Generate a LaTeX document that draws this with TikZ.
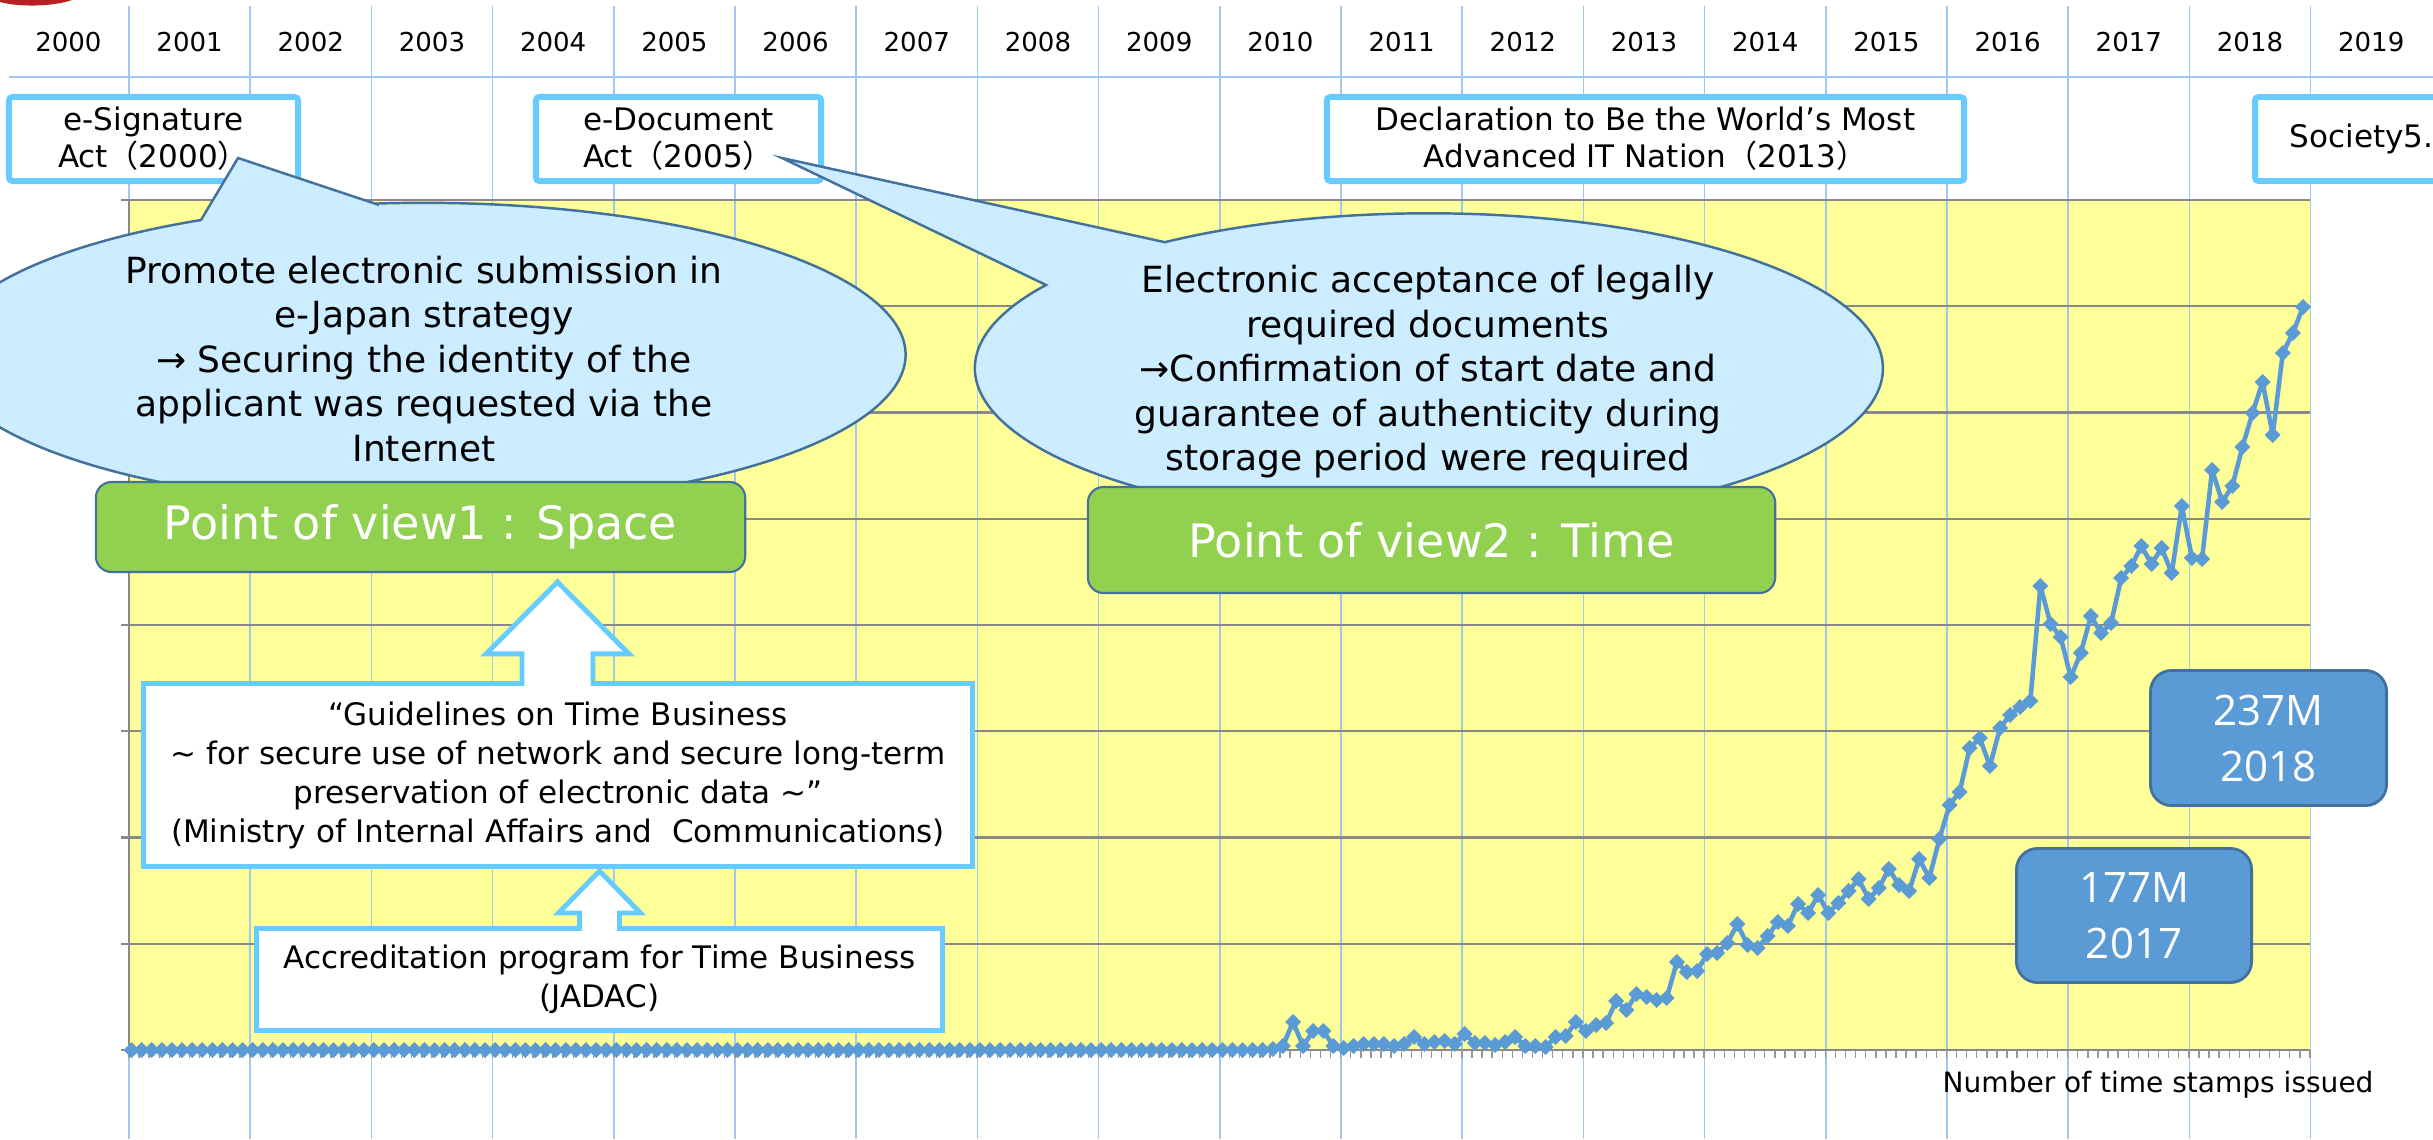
\documentclass[tikz,border=0pt]{standalone}
\usepackage{fontspec}
\setmainfont{DejaVu Sans}
\newfontfamily\cjkfont{Noto Sans CJK JP}
\newfontfamily\valfont{Open Sans}
\definecolor{gridblue}{RGB}{160,200,240}
\definecolor{plotyellow}{RGB}{255,255,153}
\definecolor{gridgray}{RGB}{137,137,137}
\definecolor{tickgray}{RGB}{150,150,150}
\definecolor{datablue}{RGB}{91,155,213}
\definecolor{cyanb}{RGB}{102,204,255}
\definecolor{bubfill}{RGB}{204,236,255}
\definecolor{bubline}{RGB}{65,113,156}
\definecolor{povgreen}{RGB}{146,208,80}
\definecolor{valblue}{RGB}{91,155,213}
\definecolor{logored}{RGB}{185,30,35}
\newcommand{\fwl}{{\cjkfont （}}
\newcommand{\fwr}{{\cjkfont ）}}
\begin{document}
\begin{tikzpicture}[x=0.01cm,y=-0.01cm,
  yearlbl/.style={font=\fontsize{7.4pt}{8pt}\selectfont, inner sep=0pt},
  evbox/.style={draw=cyanb, line width=1.7pt, fill=white, rounded corners=1pt, align=center, inner sep=0pt, outer sep=0pt, font=\fontsize{8.82pt}{10.53pt}\selectfont},
  evborder/.style={draw=cyanb, line width=1.7pt, fill=white, rounded corners=1pt},
  evtext/.style={inner sep=0pt, font=\fontsize{8.82pt}{10.53pt}\selectfont},
  bubble/.style={fill=bubfill, draw=bubline, line width=0.7pt, line join=miter},
  bubtext/.style={align=center, inner sep=0pt, font=\fontsize{10.24pt}{12.66pt}\selectfont},
  povbox/.style={fill=povgreen, draw=bubline, line width=0.6pt, rounded corners=4.5pt, text=white, inner sep=0pt, outer sep=0pt, font=\fontsize{13.09pt}{15pt}\selectfont},
  infobox/.style={draw=cyanb, line width=1.4pt, fill=white, align=center, inner sep=0pt, outer sep=0pt, font=\fontsize{8.82pt}{11.1pt}\selectfont},
  valbox/.style={fill=valblue, draw=bubline, line width=0.8pt, rounded corners=6pt, text=white, align=center, inner sep=0pt, outer sep=0pt, font=\valfont\fontsize{11.95pt}{15.93pt}\selectfont},
  blockarrow/.style={draw=cyanb, line width=1.4pt, line join=miter},
  dl/.style={draw=datablue, line width=1.3pt, line cap=round}]
\useasboundingbox (0,0) rectangle (2433,1139);
\clip (0,0) rectangle (2433,1139);
\fill[white] (0,0) rectangle (2433,1139);
% red logo sliver
\fill[logored] (0,0) -- (0,2) .. controls (18,7) and (52,7) .. (72,0) -- cycle;
% plot area
\fill[plotyellow] (129,200) rectangle (2310,1050);
\foreach \k in {0,...,18} \draw[gridblue, line width=0.45pt] ({129+121.2*\k},6) -- ({129+121.2*\k},1139);
\draw[gridblue, line width=0.6pt] (9,77) -- (2433,77);
\foreach \j in {0,...,8} \draw[gridgray, line width=0.6pt] (121,{200+106.25*\j}) -- (2310,{200+106.25*\j});
\draw[gridgray, line width=0.5pt] (129,200) -- (129,1050);
\foreach \m in {0,...,216} \draw[tickgray, line width=0.4pt] ({129+10.097*\m},1050) -- ({129+10.097*\m},1058);
% data series
\draw[dl] (131.5,1050) -- ({131.5+10.1*110},1050);
\foreach \i in {0,...,110} \fill[datablue] ({131.5+10.1*\i},1050) +(-8,0) -- +(0,-8) -- +(8,0) -- +(0,8) -- cycle;
\foreach \yv [count=\c from 111, remember=\yv as \pyv (initially 1050)] in {1050,1050,1049,1046,1022,1046,1031,1031,1046,1048,1046,1044,1044,1044,1046,1044,1037,1044,1042,1041,1044,1034,1043,1043,1045,1042,1037,1046,1046,1047,1037,1036,1022,1031,1025,1023,1001,1010,994,997,1000,998,962,972,971,954,953,943,924,945,948,936,922,926,904,913,895,913,903,891,879,899,888,869,885,891,859,878,839,805,792,748,738,766,728,715,707,701,586,624,637,677,653,616,633,623,578,566,546,564,548,573,506,558,559,470,502,486,447,413,382,435,353,333,307}{
  \draw[dl] ({131.5+10.1*(\c-1)},\pyv) -- ({131.5+10.1*\c},\yv);
  \fill[datablue] ({131.5+10.1*\c},\yv) +(-8,0) -- +(0,-8) -- +(8,0) -- +(0,8) -- cycle;
}
% year labels
\foreach \yr [count=\k from 0] in {2000,2001,2002,2003,2004,2005,2006,2007,2008,2009,2010,2011,2012,2013,2014,2015,2016,2017,2018,2019}
  \node[yearlbl] (y\yr) at ({68.4+121.2*\k},42) {\yr};
% event boxes
\node[evbox, minimum width=2.89cm, minimum height=0.84cm] (ev1) at (153.5,139) {e-Signature\\Act\fwl 2000\fwr};
\node[evbox, minimum width=2.85cm, minimum height=0.84cm] (ev2) at (678.5,139) {e-Document\\Act\fwl 2005\fwr};
\node[evbox, minimum width=6.37cm, minimum height=0.84cm] (ev3) at (1645.5,139) {Declaration to Be the World’s Most\\Advanced IT Nation\fwl 2013\fwr};
\draw[evborder] (2255,97) rectangle (2490,181);
\node[evtext, anchor=west] (soc) at (2289,139) {Society5.};
% callout bubbles
\coordinate (tip1) at (238,158);
\coordinate (tip2) at (782,158);
\path[bubble] (376,204) -- (tip1) -- (201,220) arc[start angle=242.5, end angle=-95.7, x radius=482, y radius=152] -- cycle;
\node[bubtext] (b1) at (424,359) {Promote electronic submission in\\e-Japan strategy\\→ Securing the identity of the\\applicant was requested via the\\Internet};
\path[bubble] (1164,242) -- (tip2) -- (1046,285) arc[start angle=212.5, end angle=-125.6, x radius=454, y radius=155] -- cycle;
\node[bubtext] (b2) at (1428,372) {Electronic acceptance of legally\\required documents\\→Confirmation of start date and\\guarantee of authenticity during\\storage period were required};
% points of view
\node[povbox, minimum width=6.49cm, minimum height=0.90cm] (pov1) at (420.5,527) {Point of view1 : Space};
\node[povbox, minimum width=6.87cm, minimum height=1.06cm] (pov2) at (1431.5,540) {Point of view2 : Time};
% guideline and accreditation boxes
\node[infobox, minimum width=8.29cm, minimum height=1.83cm] (guide) at (558,775) {“Guidelines on Time Business\\\textasciitilde{} for secure use of network and secure long-term\\preservation of electronic data \textasciitilde”\\(Ministry of Internal Affairs and~ Communications)};
\node[infobox, minimum width=6.86cm, minimum height=1.02cm] (accred) at (599.5,979.5) {Accreditation program for Time Business\\(JADAC)};
% block arrows
\fill[white] (guide.north) ++(-36,2.5) -- ++(0,-32) -- ++(-36,0) -- ++(71.5,-72) -- ++(71.5,72) -- ++(-36,0) -- ++(0,32) -- cycle;
\draw[blockarrow] (guide.north) ++(-36,2.5) -- ++(0,-32) -- ++(-36,0) -- ++(71.5,-72) -- ++(71.5,72) -- ++(-36,0) -- ++(0,32);
\fill[white] (accred.north) ++(-20,2.5) -- ++(0,-18) -- ++(-21,0) -- ++(41,-42) -- ++(41,42) -- ++(-21,0) -- ++(0,18) -- cycle;
\draw[blockarrow] (accred.north) ++(-20,2.5) -- ++(0,-18) -- ++(-21,0) -- ++(41,-42) -- ++(41,42) -- ++(-21,0) -- ++(0,18);
% value boxes
\node[valbox, minimum width=2.35cm, minimum height=1.34cm] (v177) at (2134,915.5) {177M\\2017};
\node[valbox, minimum width=2.36cm, minimum height=1.35cm] (v237) at (2268.5,738) {237M\\2018};
% axis caption
\node[anchor=west, inner sep=0pt, font=\fontsize{7.97pt}{9pt}\selectfont] (numlbl) at (1942,1085) {Number of time stamps issued};
\end{tikzpicture}
\end{document}
